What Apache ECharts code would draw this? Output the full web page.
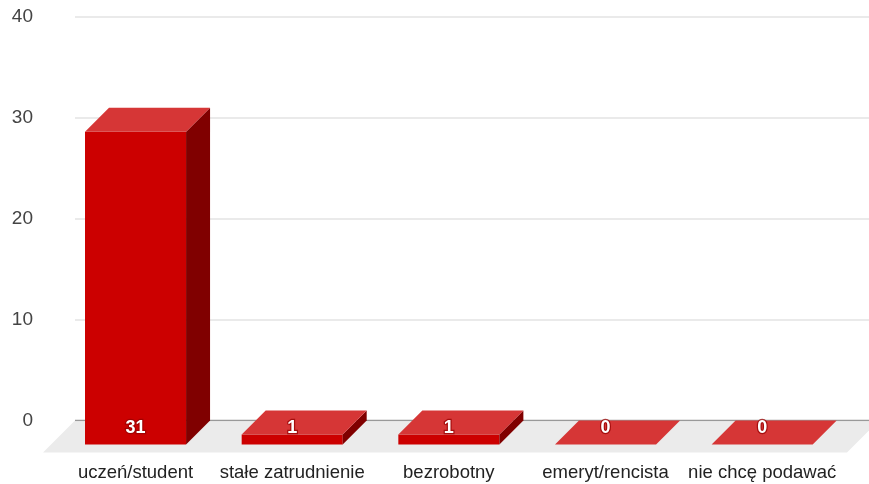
<!DOCTYPE html>
<html>
<head>
<meta charset="utf-8">
<script src="https://cdn.jsdelivr.net/npm/echarts@6/dist/echarts.min.js"></script>
<style>
  html, body { margin: 0; padding: 0; background: #fff; }
  #chart { width: 869px; height: 484px; }
</style>
</head>
<body>
<div id="chart"></div>
<script>
// Status of respondents
const categories = ['uczeń/student', 'stałe zatrudnienie', 'bezrobotny', 'emeryt/rencista', 'nie chcę podawać'];
const counts = [31, 1, 1, 0, 0];
const yTicks = [0, 10, 20, 30, 40];

// 3D extrusion depth of the bars (px) and of the floor
const DEPTH_X = 24, DEPTH_Y = 24;
const FLOOR_X = 32, FLOOR_Y = 32;
const FLOOR_OVERHANG = 10;

const FRONT = '#cc0000', TOP = '#d63636', SIDE = '#800000';
const FONT = '"Liberation Sans", Arial, sans-serif';

const chart = echarts.init(document.getElementById('chart'));

function renderBar(params, api) {
  const i = api.value(0), v = api.value(1);
  const base = api.coord([i, 0]);
  const top = api.coord([i, v]);
  const w = api.size([1, 0])[0] * 0.645;
  const x0 = base[0] - w / 2, x1 = base[0] + w / 2;
  const yb = base[1], yt = top[1];
  const children = [];
  if (v > 0) {
    children.push({ type: 'rect', shape: { x: x0, y: yt, width: w, height: yb - yt },
      style: { fill: FRONT } });
    children.push({ type: 'polygon', shape: { points: [[x1, yt], [x1 + DEPTH_X, yt - DEPTH_Y], [x1 + DEPTH_X, yb - DEPTH_Y], [x1, yb]] },
      style: { fill: SIDE } });
  }
  children.push({ type: 'polygon', shape: { points: [[x0, yt], [x0 + DEPTH_X, yt - DEPTH_Y], [x1 + DEPTH_X, yt - DEPTH_Y], [x1, yt]] },
    style: { fill: TOP } });
  children.push({ type: 'text', x: base[0], y: yb - 16,
    style: { text: String(v), fill: '#fff', font: 'bold 18px ' + FONT,
      align: 'center', verticalAlign: 'middle', textStroke: 'rgba(150,0,0,0.75)', lineWidth: 2.5 } });
  return { type: 'group', children };
}

function renderFloor(params, api) {
  const cs = params.coordSys;
  const y = api.coord([0, 0])[1];
  const xl = cs.x, xr = cs.x + cs.width + FLOOR_OVERHANG;
  return { type: 'polygon',
    shape: { points: [[xl, y], [xr, y], [xr - FLOOR_X, y + FLOOR_Y], [xl - FLOOR_X, y + FLOOR_Y]] },
    style: { fill: '#ebebeb' } };
}

chart.setOption({
  animation: false,
  grid: [
    { left: 75, right: 0, top: 17, bottom: 63.5 },     // back wall with gridlines
    { left: 57.2, right: 28.5, top: 41, bottom: 39.5 }  // front plane of the bars
  ],
  xAxis: [
    { gridIndex: 0, type: 'value', min: 0, max: 1, show: false },
    { gridIndex: 1, type: 'category', data: categories,
      axisLine: { show: false }, axisTick: { show: false },
      axisLabel: { interval: 0, hideOverlap: false, margin: 19, color: '#222', fontSize: 18.5, fontFamily: FONT } }
  ],
  yAxis: [
    { gridIndex: 0, type: 'value', min: yTicks[0], max: yTicks[yTicks.length - 1], interval: 10,
      axisLine: { show: false }, axisTick: { show: false },
      axisLabel: { margin: 42, color: '#444', fontSize: 19, fontFamily: FONT } ,
      splitLine: { lineStyle: { color: '#e3e3e3', width: 1.5 } } },
    { gridIndex: 1, type: 'value', min: yTicks[0], max: yTicks[yTicks.length - 1], show: false }
  ],
  series: [
    { type: 'custom', xAxisIndex: 0, yAxisIndex: 0, z: 0, renderItem: renderFloor, data: [[0, 0]], silent: true, clip: false },
    { type: 'line', xAxisIndex: 0, yAxisIndex: 0, z: 1, data: [[0, 0], [1, 0]], symbol: 'none',
      lineStyle: { color: '#999', width: 1.5 }, silent: true },
    { type: 'custom', xAxisIndex: 1, yAxisIndex: 1, z: 2, renderItem: renderBar,
      data: counts.map((v, i) => [i, v]) }
  ]
});
</script>
</body>
</html>
